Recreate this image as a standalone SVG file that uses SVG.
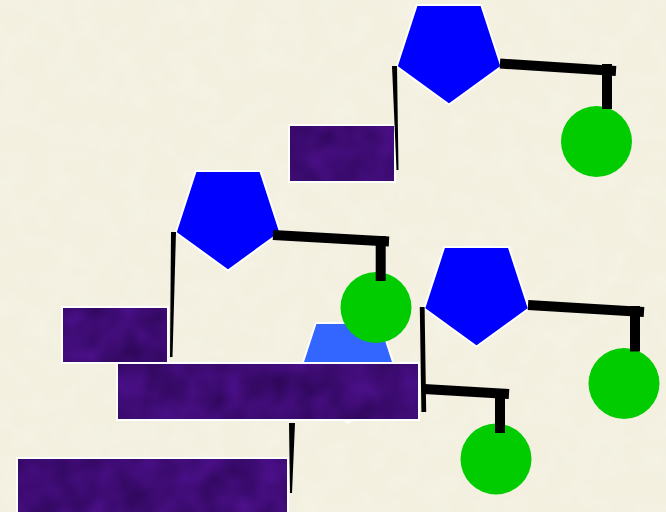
<svg xmlns="http://www.w3.org/2000/svg" width="666" height="512" viewBox="0 0 666 512">
<defs>
<filter id="bgtex" x="0" y="0" width="1" height="1" color-interpolation-filters="sRGB">
<feTurbulence type="fractalNoise" baseFrequency="0.04" numOctaves="3" seed="7"/>
<feColorMatrix type="matrix" values="0 0 0 0 1  0 0 0 0 1  0 0 0 0 0.97  0.35 0 0 0 -0.12"/>
<feComposite in2="SourceAlpha" operator="in"/>
</filter>
<filter id="purp" x="0" y="0" width="1" height="1" color-interpolation-filters="sRGB">
<feTurbulence type="fractalNoise" baseFrequency="0.035" numOctaves="2" seed="3"/>
<feColorMatrix type="matrix" values="0.16 0 0 0 0.16  0.05 0 0 0 0.02  0.26 0 0 0 0.32  0 0 0 0 1"/>
<feComposite in2="SourceAlpha" operator="in"/>
</filter>
<style>
.pent{fill:#0000ff;stroke:#ffffff;stroke-width:2;stroke-linejoin:round}
.pentl{fill:#3366ff;stroke:#ffffff;stroke-width:2;stroke-linejoin:round}
.circ{fill:#00cc00}
.box{fill:#3e0a6e}
.boxs{fill:none;stroke:#ffffff;stroke-width:2}
.thick{stroke:#000000;stroke-width:10;fill:none;stroke-linecap:butt}
.thin{fill:#000000}
</style>
</defs>
<rect width="666" height="512" fill="#f3f0e0"/>
<rect width="666" height="512" fill="#ffffff" filter="url(#bgtex)"/>

<g id="node-pent-light"><polygon class="pentl" points="348,422.5 400.3,384.5 380.3,323 315.7,323 295.7,384.5"/></g>

<g id="node-rect1"><rect class="box" x="289" y="125" width="106" height="57" filter="url(#purp)"/><rect class="boxs" x="289" y="125" width="106" height="57"/></g>
<g id="node-rect2"><rect class="box" x="62" y="307" width="106" height="56" filter="url(#purp)"/><rect class="boxs" x="62" y="307" width="106" height="56"/></g>
<g id="node-rect3"><rect class="box" x="117" y="363" width="302" height="57" filter="url(#purp)"/><rect class="boxs" x="117" y="363" width="302" height="57"/></g>
<g id="node-rect4"><rect class="box" x="17" y="458" width="271" height="60" filter="url(#purp)"/><rect class="boxs" x="17" y="458" width="271" height="60"/></g>

<g id="node-circle1"><circle class="circ" cx="596.5" cy="141.5" r="35.5"/></g>
<g id="node-circle2"><circle class="circ" cx="376" cy="307.5" r="35.5"/></g>
<g id="node-circle3"><circle class="circ" cx="624" cy="383.5" r="35.5"/></g>
<g id="node-circle4"><circle class="circ" cx="496" cy="459" r="35.5"/></g>

<g id="node-pent1"><polygon class="pent" points="449,104.5 501.3,66.5 481.3,5 416.7,5 396.7,66.5"/></g>
<g id="node-pent2"><polygon class="pent" points="228,270.5 280.3,232.5 260.3,171 195.7,171 175.7,232.5"/></g>
<g id="node-pent3"><polygon class="pent" points="476.5,346.5 528.8,308.5 508.8,247 444.2,247 424.2,308.5"/></g>

<g id="connectors">
<line class="thick" x1="500" y1="63.5" x2="616" y2="71"/>
<line class="thick" x1="607" y1="64" x2="607" y2="109"/>
<polygon class="thin" points="392,66 397,66 398.5,170 396.5,170"/>

<line class="thick" x1="273" y1="235" x2="389" y2="241.5"/>
<line class="thick" x1="380.7" y1="236" x2="380.7" y2="281"/>
<polygon class="thin" points="171,232 176,232 172.5,357 170,357"/>

<line class="thick" x1="528" y1="305" x2="644" y2="312"/>
<line class="thick" x1="635" y1="306" x2="635" y2="351.5"/>
<polygon class="thin" points="419.8,307 424.6,307 426.2,412 421.4,412"/>

<line class="thick" x1="424" y1="389" x2="509" y2="394"/>
<line class="thick" x1="500" y1="389" x2="500" y2="433"/>

<polygon class="thin" points="289,423 295,423 292,493 290,493"/>
</g>
</svg>
